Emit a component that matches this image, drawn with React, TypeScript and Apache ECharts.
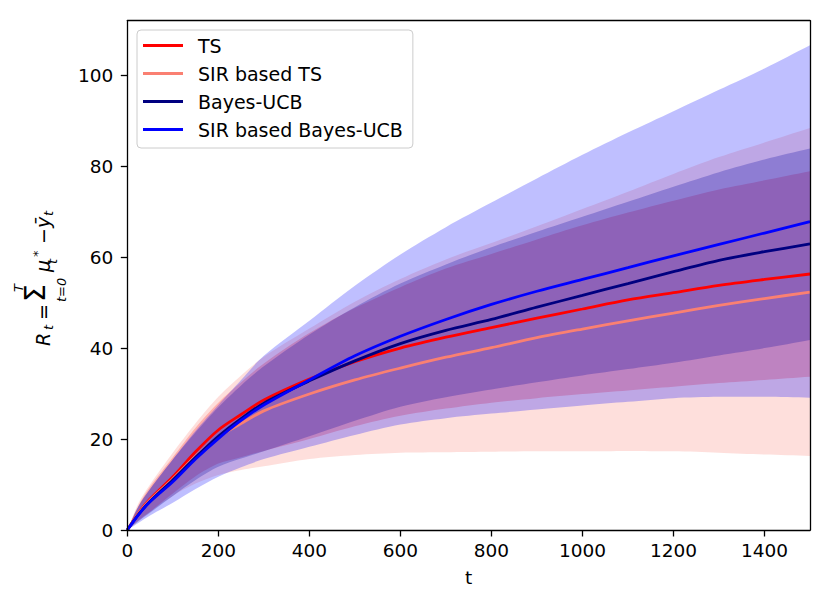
import React, { useEffect, useRef } from "react";
import * as echarts from "echarts";

// time steps
const T = [0, 25, 50, 100, 150, 200, 250, 300, 400, 500, 600, 700, 800, 900, 1000, 1100, 1200, 1300, 1400, 1500];

// mean regret
const tsMean = [0, 3.8, 6.8, 11.7, 17.2, 22.0, 25.4, 28.6, 33.2, 37.0, 40.0, 42.4, 44.5, 46.6, 48.6, 50.6, 52.2, 53.8, 55.1, 56.3];
const sirTsMean = [0, 3.7, 6.6, 11.2, 16.2, 20.4, 23.4, 26.2, 29.9, 33.0, 35.6, 38.0, 40.1, 42.3, 44.2, 46.0, 47.7, 49.4, 50.9, 52.3];
const bucbMean = [0, 3.5, 6.3, 11.0, 16.0, 20.6, 24.5, 27.9, 32.8, 37.2, 41.0, 43.9, 46.3, 49.0, 51.6, 54.2, 56.8, 59.3, 61.2, 62.9];
const sirBucbMean = [0, 3.4, 6.2, 10.6, 15.6, 20.1, 24.1, 27.5, 33.0, 38.3, 42.6, 46.3, 49.6, 52.5, 55.1, 57.7, 60.3, 62.8, 65.3, 67.8];

// upper band edges
const tsUpper = [0, 5.5, 9.5, 16, 22.5, 28, 32.5, 36.6, 43.3, 48.8, 53.4, 57.5, 60.7, 63.9, 67.0, 69.8, 72.4, 74.9, 76.9, 78.9];
const sirTsUpper = [0, 6, 10, 17, 23.5, 29.3, 34, 38.1, 44.3, 50.2, 55.2, 59.5, 63.1, 66.8, 70.6, 74.4, 78.3, 82.0, 85.2, 88.4];
const bucbUpper = [0, 5.3, 9, 15.5, 21.5, 27, 31.8, 36, 43.0, 49.0, 54.2, 58.4, 62.2, 65.6, 68.9, 72.2, 75.5, 78.7, 81.5, 83.9];
const sirBucbUpper = [0, 5.3, 9, 15.5, 21.8, 27.5, 33, 38.3, 46.0, 53.7, 60.6, 66.6, 72.0, 77.3, 82.5, 87.4, 92.1, 96.8, 101.5, 106.6];

// lower band edges
const tsLower = [0, 2.2, 4, 8, 11.8, 14.6, 16.0, 17.4, 20.0, 22.8, 25.1, 26.7, 28.0, 29.0, 29.9, 30.7, 31.5, 32.3, 33.0, 33.7];
const sirTsLower = [0, 2.0, 4, 7.5, 10.2, 12.1, 13.2, 14.0, 15.6, 16.5, 17.0, 17.1, 17.2, 17.3, 17.3, 17.4, 17.3, 17.0, 16.6, 16.3];
const bucbLower = [0, 2.0, 3.8, 7.5, 11.0, 13.9, 15.7, 17.3, 20.6, 24.0, 27.1, 29.2, 30.9, 32.5, 34.0, 35.4, 36.8, 38.4, 40.0, 41.8];
const sirBucbLower = [0, 1.6, 3.2, 6.0, 9.0, 11.7, 13.8, 15.6, 18.3, 20.9, 23.2, 24.6, 25.6, 26.5, 27.4, 28.2, 29.0, 29.3, 29.3, 29.1];

const seriesNames = ["TS", "SIR based TS", "Bayes-UCB", "SIR based Bayes-UCB"];
const xTicks = [0, 200, 400, 600, 800, 1000, 1200, 1400];
const yTicks = [0, 20, 40, 60, 80, 100];

const FONT = "DejaVu Sans";
const SMOOTH = 0.3;

export default function App() {
  const ref = useRef<HTMLDivElement>(null);
  useEffect(() => {
    const chart = echarts.init(ref.current!, null, { renderer: "svg" });

    const band = (upper: number[], lower: number[], fill: string) => ({
      type: "custom",
      silent: true,
      data: [[0, 0]],
      z: 1,
      renderItem: (params: any, api: any) => {
        const n = T.length;
        const pts: number[][] = [];
        for (let i = 0; i < n; i++) pts.push(api.coord([T[i], upper[i]]));
        // duplicated corners stay sharp when smoothing
        pts.push(api.coord([T[n - 1], upper[n - 1]]));
        pts.push(api.coord([T[n - 1], lower[n - 1]]));
        for (let i = n - 1; i >= 1; i--) pts.push(api.coord([T[i], lower[i]]));
        pts.push(api.coord([T[0], lower[0]]));
        const cs = params.coordSys;
        return {
          type: "polygon",
          shape: {
            points: pts,
            smooth: SMOOTH,
            smoothConstraint: [
              [cs.x, cs.y],
              [cs.x + cs.width, cs.y + cs.height],
            ],
          },
          style: { fill, stroke: "none" },
        };
      },
    });

    const line = (name: string, vals: number[], color: string) => ({
      type: "line",
      name,
      data: T.map((t, i) => [t, vals[i]]),
      showSymbol: false,
      symbol: "none",
      smooth: SMOOTH,
      lineStyle: { color, width: 2.8 },
      itemStyle: { color },
      z: 3,
    });

    const mathPart = (text: string, x: number, y: number, size: number, italic = true) => ({
      type: "text",
      x,
      y,
      rotation: Math.PI / 2,
      silent: true,
      style: {
        text,
        fontSize: size,
        fontFamily: FONT,
        fontStyle: italic ? "italic" : "normal",
        fill: "#000",
        align: "left",
        verticalAlign: "middle",
      },
    });

    const axisCommon = {
      axisLine: { show: true, onZero: false, lineStyle: { color: "#000", width: 1.3 } },
      splitLine: { show: false },
      z: 10,
    };

    const option: any = {
      animation: false,
      textStyle: { fontFamily: FONT },
      grid: { left: 127.3, right: 21, top: 20.7, bottom: 72, show: false, containLabel: false, outerBoundsMode: "none" },
      legend: {
        data: seriesNames,
        orient: "vertical",
        left: 137,
        top: 30,
        icon: "rect",
        itemWidth: 40,
        itemHeight: 3,
        itemGap: 9,
        padding: [6, 10, 9, 6],
        borderColor: "#cccccc",
        borderWidth: 1,
        borderRadius: 4,
        backgroundColor: "rgba(255,255,255,0.8)",
        textStyle: { fontSize: 19, fontFamily: FONT, color: "#000", padding: [0, 0, 0, 10] },
        z: 20,
      },
      xAxis: [
        {
          ...axisCommon,
          type: "value",
          position: "bottom",
          min: 0,
          max: 1500,
          interval: 200,
          axisTick: { show: true, length: 6.5, lineStyle: { color: "#000", width: 1.3 }, customValues: xTicks },
          axisLabel: {
            customValues: xTicks,
            fontSize: 18.5,
            color: "#000",
            fontFamily: FONT,
            margin: 11,
            formatter: (v: number) => String(v),
          },
          name: "t",
          nameLocation: "middle",
          nameGap: 38,
          nameTextStyle: { fontSize: 18.5, fontFamily: FONT, color: "#000" },
        },
        {
          ...axisCommon,
          type: "value",
          position: "top",
          min: 0,
          max: 1500,
          interval: 200,
          axisTick: { show: false },
          axisLabel: { show: false },
        },
      ],
      yAxis: [
        {
          ...axisCommon,
          type: "value",
          position: "left",
          min: 0,
          max: 112,
          interval: 20,
          axisTick: { show: true, length: 6.5, lineStyle: { color: "#000", width: 1.3 }, customValues: yTicks },
          axisLabel: {
            customValues: yTicks,
            fontSize: 18.5,
            color: "#000",
            fontFamily: FONT,
            margin: 14,
            formatter: (v: number) => String(v),
          },
        },
        {
          ...axisCommon,
          type: "value",
          position: "right",
          min: 0,
          max: 112,
          interval: 20,
          axisTick: { show: false },
          axisLabel: { show: false },
        },
      ],
      series: [
        band(tsUpper, tsLower, "rgba(255,0,0,0.25)"),
        band(sirTsUpper, sirTsLower, "rgba(250,128,114,0.25)"),
        band(bucbUpper, bucbLower, "rgba(0,0,128,0.25)"),
        band(sirBucbUpper, sirBucbLower, "rgba(0,0,255,0.25)"),
        line(seriesNames[0], tsMean, "#ff0000"),
        line(seriesNames[1], sirTsMean, "#fa8072"),
        line(seriesNames[2], bucbMean, "#000080"),
        line(seriesNames[3], sirBucbMean, "#0000ff"),
      ],
      graphic: [
        mathPart("R", 43.4, 346, 19),
        mathPart("t", 48.8, 330, 13),
        mathPart("=", 43.4, 320, 19, false),
        mathPart("Σ", 35, 302, 28, false),
        mathPart("T", 18.4, 292, 13),
        mathPart("t=0", 61, 302, 13),
        mathPart("μ", 43.4, 272, 19),
        mathPart("*", 37.5, 257, 13, false),
        mathPart("t", 52.5, 264, 13),
        mathPart("−", 43.4, 244, 19, false),
        mathPart("ȳ", 43.4, 228, 19),
        mathPart("t", 48.8, 216, 13),
      ],
    };

    chart.setOption(option);
    return () => chart.dispose();
  }, []);

  return <div ref={ref} style={{ position: "absolute", left: 0, top: 0, width: 831, height: 602 }} />;
}
